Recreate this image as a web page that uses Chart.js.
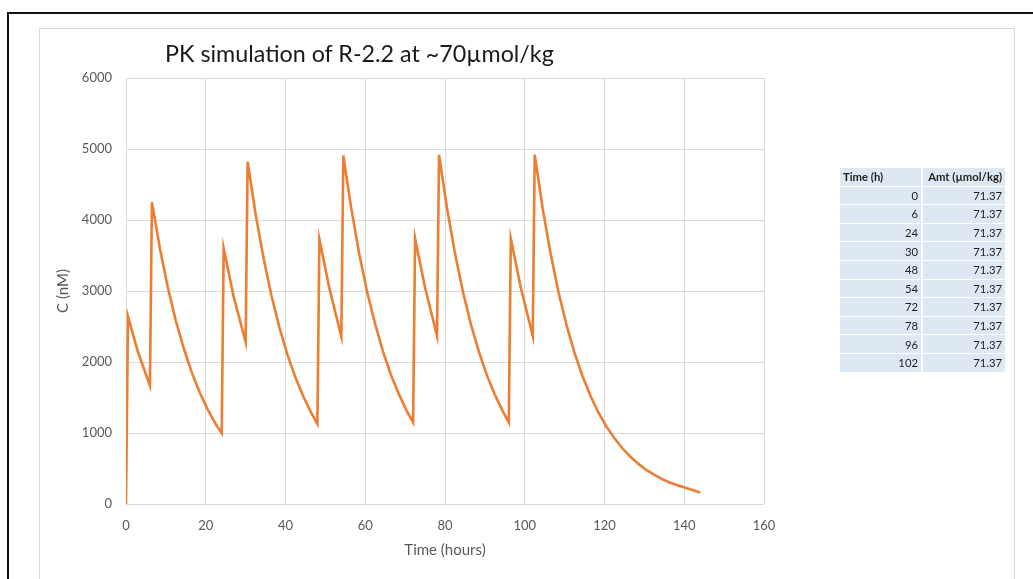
<!DOCTYPE html>
<html>
<head>
<meta charset="utf-8">
<script src="https://cdn.jsdelivr.net/npm/chart.js@4.4.1/dist/chart.umd.min.js"></script>
<style>
  html, body { margin: 0; padding: 0; background: #fff; }
  body { width: 1033px; height: 579px; position: relative; overflow: hidden; font-family: Lato, "Open Sans", sans-serif; }
  .frame-top { position: absolute; left: 7px; top: 12px; width: 1026px; height: 2px; background: #111; }
  .frame-left { position: absolute; left: 7px; top: 12px; width: 2px; height: 567px; background: #111; }
  .box { position: absolute; left: 39px; top: 28px; width: 974px; height: 600px; border: 1.5px solid #d9d9d9; }
  #pk { position: absolute; left: 0; top: 0; }
  .title { position: absolute; left: 165px; top: 39px; font-size: 23.3px; color: #1a1a1a; white-space: nowrap; }
  table.dose { position: absolute; left: 840px; top: 168px; width: 165px; border-collapse: collapse; font-size: 11.3px; color: #1f1f1f; table-layout: fixed; }
  table.dose td { background: #dde8f4; height: 17.6px; padding: 0 3px; text-align: right; border-bottom: 1.5px solid #fff; }
  table.dose td:first-child { width: 75px; border-right: 2px solid #fff; }
  table.dose tr.head td { font-weight: bold; }
  table.dose tr.head td:first-child { text-align: left; }
</style>
</head>
<body>
<div class="frame-top"></div>
<div class="frame-left"></div>
<div class="box"></div>
<canvas id="pk" width="1033" height="579"></canvas>
<div class="title">PK simulation of R-2.2 at ~70µmol/kg</div>
<table class="dose" id="doseTable"></table>
<script>
// simulated concentration curve (hours, nM)
const hours = [
  0, 0.5, 3, 6,
  6.5, 8.5, 10.5, 12.5, 14.5, 16.5, 18.5, 20.5, 22.5, 24,
  24.5, 27, 30,
  30.5, 32.5, 34.5, 36.5, 38.5, 40.5, 42.5, 44.5, 46.5, 48,
  48.5, 51, 54,
  54.5, 56.5, 58.5, 60.5, 62.5, 64.5, 66.5, 68.5, 70.5, 72,
  72.5, 75, 78,
  78.5, 80.5, 82.5, 84.5, 86.5, 88.5, 90.5, 92.5, 94.5, 96,
  96.5, 99, 102,
  102.5, 104.5, 106.5, 108.5, 110.5, 112.5, 114.5, 116.5, 118.5, 120.5,
  122.5, 124.5, 126.5, 128.5, 130.5, 132.5, 134.5, 136.5, 138.5, 140.5, 142.5, 144
];
const conc = [
  0, 2640, 2140, 1670,
  4250, 3600, 3050, 2580, 2190, 1850, 1570, 1330, 1125, 1000,
  3600, 2920, 2280,
  4820, 4080, 3460, 2930, 2480, 2100, 1780, 1510, 1280, 1130,
  3730, 3040, 2360,
  4910, 4160, 3520, 2980, 2530, 2140, 1810, 1540, 1300, 1150,
  3740, 3050, 2370,
  4920, 4170, 3530, 2990, 2530, 2145, 1815, 1540, 1305, 1150,
  3740, 3050, 2370,
  4920, 4160, 3520, 2975, 2515, 2125, 1800, 1520, 1285, 1090,
  925, 785, 665, 565, 480, 410, 350, 300, 262, 225, 190, 160
];

// dosing table
const doseTimes = [0, 6, 24, 30, 48, 54, 72, 78, 96, 102];
const doseAmts = [71.37, 71.37, 71.37, 71.37, 71.37, 71.37, 71.37, 71.37, 71.37, 71.37];

const xTicks = [0, 20, 40, 60, 80, 100, 120, 140, 160];
const yTicks = [0, 1000, 2000, 3000, 4000, 5000, 6000];

const tbl = document.getElementById("doseTable");
let rows = '<tr class="head"><td>Time (h)</td><td>Amt (µmol/kg)</td></tr>';
doseTimes.forEach((t, i) => { rows += `<tr><td>${t}</td><td>${doseAmts[i].toFixed(2)}</td></tr>`; });
tbl.innerHTML = rows;

const AXIS = "#595959", GRID = "#d9d9d9", ORANGE = "#ed7d31";
const FONT = "Lato, 'Open Sans', sans-serif";

new Chart(document.getElementById("pk").getContext("2d"), {
  type: "line",
  data: {
    datasets: [{
      data: hours.map((h, i) => ({ x: h, y: conc[i] })),
      borderColor: ORANGE, borderWidth: 2.6, pointRadius: 0, tension: 0, fill: false,
    }],
  },
  options: {
    responsive: false, animation: false, maintainAspectRatio: false,
    layout: { padding: { left: 40, top: 78, right: 269, bottom: 15 } },
    plugins: { legend: { display: false }, tooltip: { enabled: false } },
    scales: {
      x: {
        type: "linear", min: 0, max: 160,
        afterBuildTicks: (s) => { s.ticks = xTicks.map((v) => ({ value: v })); },
        afterFit: (s) => { s.height = 60; },
        ticks: { color: AXIS, font: { family: FONT, size: 13 }, padding: 14, callback: (v) => String(v) },
        grid: { color: GRID, drawTicks: false },
        border: { display: false },
        title: { display: true, text: "Time (hours)", color: AXIS, font: { family: FONT, size: 15 }, padding: { bottom: 5 } },
      },
      y: {
        min: 0, max: 6000,
        afterBuildTicks: (s) => { s.ticks = yTicks.map((v) => ({ value: v })); },
        afterFit: (s) => { s.width = 86; },
        ticks: { color: AXIS, font: { family: FONT, size: 13 }, padding: 14, callback: (v) => String(v) },
        grid: { color: GRID, drawTicks: false },
        border: { display: false },
        title: { display: true, text: "C (nM)", color: AXIS, font: { family: FONT, size: 15 }, padding: { top: 14 } },
      },
    },
  },
});
</script>
</body>
</html>
